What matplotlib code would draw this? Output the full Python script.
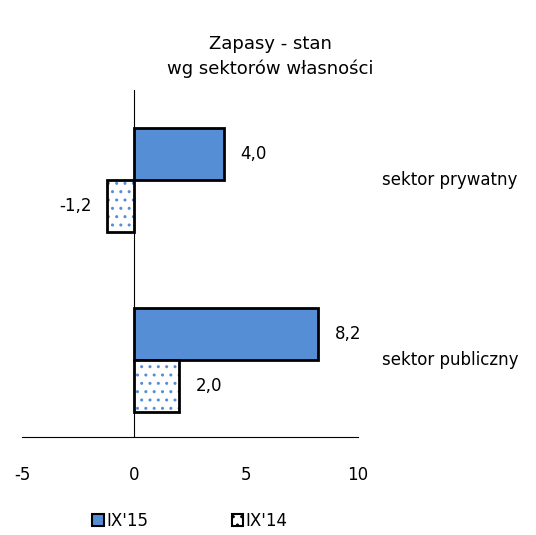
import matplotlib
matplotlib.use("Agg")
import matplotlib.pyplot as plt
import numpy as np
from matplotlib.patches import Patch

categories = ["sektor prywatny", "sektor publiczny"]
series_names = ["IX'15", "IX'14"]
ix15 = [4.0, 8.2]
ix14 = [-1.2, 2.0]
xticks = [-5, 0, 5, 10]

blue = "#558ED5"
plt.rcParams['font.family'] = ['DejaVu Sans']
plt.rcParams['hatch.linewidth'] = 1.0

fig = plt.figure(figsize=(5.36, 5.35), dpi=100)
ax = fig.add_axes([22/536, 1-437/535, (358-22)/536, (437-90)/535])

y = np.arange(len(categories))
h = 0.29
ax.barh(y - h/2, ix15, height=h, color=blue, edgecolor="black", linewidth=2, zorder=3)
ax.barh(y + h/2, ix14, height=h, color="white", edgecolor=blue, hatch="..", linewidth=0, zorder=3)
ax.barh(y + h/2, ix14, height=h, color="none", edgecolor="black", linewidth=2, zorder=4)

for yi, v in zip(y - h/2, ix15):
    ax.text(v + (0.75 if v >= 0 else -0.7), yi, f"{v:.1f}".replace(".", ","),
            ha="left" if v >= 0 else "right", va="center", fontsize=12)
for yi, v in zip(y + h/2, ix14):
    ax.text(v + (0.75 if v >= 0 else -0.7), yi, f"{v:.1f}".replace(".", ","),
            ha="left" if v >= 0 else "right", va="center", fontsize=12)

ax.set_xlim(-5, 10)
ax.set_ylim(1.43, -0.5)
ax.set_xticks(xticks)
ax.set_xticklabels([str(t) for t in xticks], fontsize=12)
ax.tick_params(axis="x", length=0, pad=21)
ax.set_yticks(y)
ax.set_yticklabels(categories, fontsize=12)
ax.yaxis.tick_right()
ax.tick_params(axis="y", length=0, pad=17)
for lab in ax.get_yticklabels():
    lab.set_verticalalignment("center")
for s in ["top", "right", "left"]:
    ax.spines[s].set_visible(False)
ax.spines["bottom"].set_color("black")
ax.spines["bottom"].set_linewidth(0.8)
ax.axvline(0, color="black", linewidth=0.8, zorder=2)

fig.text(270/536, 1-44/535, "Zapasy - stan", ha="center", va="center", fontsize=13)
fig.text(270/536, 1-69/535, "wg sektorów własności", ha="center", va="center", fontsize=13)

handles = [Patch(facecolor=blue, edgecolor="black", linewidth=1.5),
           Patch(facecolor="white", edgecolor=blue, hatch="..", linewidth=1.5)]
leg = fig.legend(handles, series_names, loc="center", bbox_to_anchor=(190/536, 1-521/535),
                 ncol=2, frameon=False, fontsize=12, handlelength=0.7, handleheight=0.7,
                 handletextpad=0.15, columnspacing=5)
for p in leg.get_patches()[1:]:
    p.set_edgecolor("black")

fig.savefig("out.png", dpi=100)
